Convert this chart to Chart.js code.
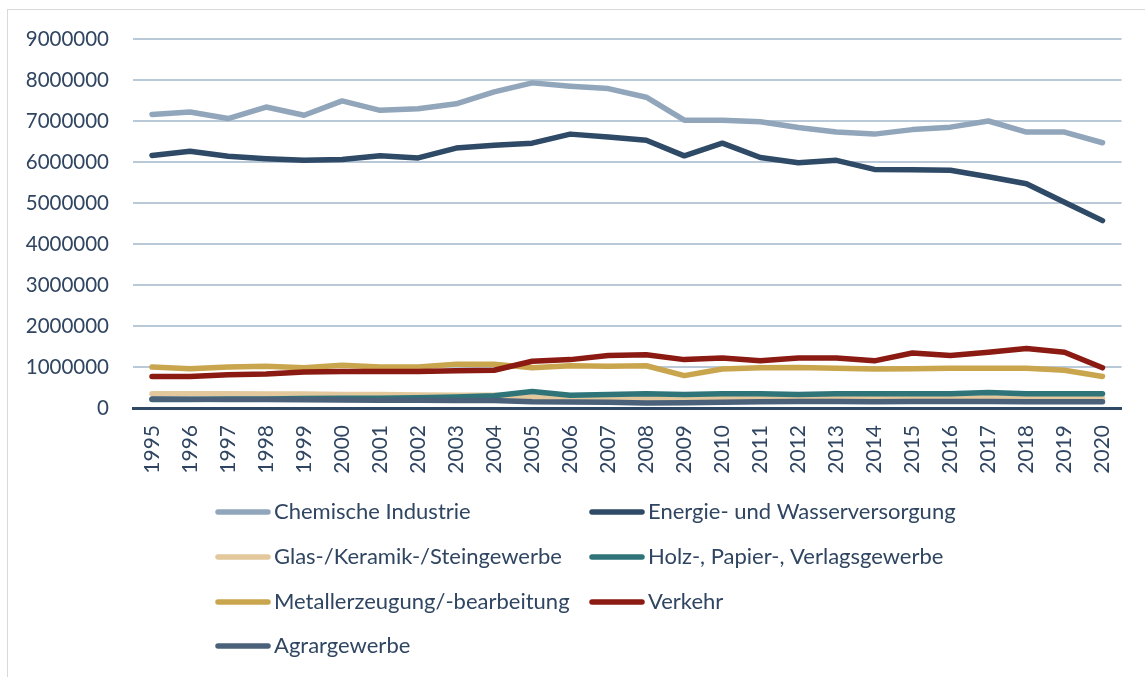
<!DOCTYPE html>
<html>
<head>
<meta charset="utf-8">
<script src="https://cdn.jsdelivr.net/npm/chart.js@4/dist/chart.umd.min.js"></script>
<style>
  html, body { margin: 0; padding: 0; background: #ffffff; overflow: hidden; }
  #wrap { position: relative; width: 1145px; height: 677px; }
  #frame { position: absolute; left: 7px; top: 9px; width: 1160px; height: 700px; border: 1px solid #D9D9D9; box-sizing: border-box; }
  #c { position: absolute; left: 0; top: 0; }
</style>
</head>
<body>
<div id="wrap">
  <div id="frame"></div>
  <canvas id="c" width="1145" height="677"></canvas>
</div>
<script>
const years = ['1995','1996','1997','1998','1999','2000','2001','2002','2003','2004','2005','2006','2007','2008','2009','2010','2011','2012','2013','2014','2015','2016','2017','2018','2019','2020'];

const chemischeIndustrie = [7160000,7220000,7060000,7340000,7140000,7490000,7260000,7300000,7420000,7710000,7930000,7850000,7790000,7580000,7020000,7020000,6980000,6840000,6730000,6680000,6790000,6850000,7000000,6730000,6730000,6470000];
const energieWasser = [6160000,6260000,6140000,6080000,6040000,6060000,6150000,6100000,6340000,6410000,6460000,6680000,6610000,6530000,6150000,6460000,6110000,5980000,6040000,5820000,5810000,5800000,5640000,5470000,5020000,4570000];
const glasKeramikStein = [350000,350000,350000,340000,340000,330000,330000,320000,310000,310000,270000,240000,240000,240000,220000,240000,240000,240000,240000,240000,240000,240000,250000,240000,240000,230000];
const holzPapierVerlag = [210000,210000,220000,220000,230000,240000,240000,250000,270000,300000,400000,310000,330000,350000,330000,350000,350000,330000,350000,350000,350000,350000,380000,350000,350000,350000];
const metallerzeugung = [1000000,960000,1000000,1020000,980000,1040000,1000000,1000000,1070000,1070000,980000,1030000,1020000,1030000,790000,950000,980000,990000,970000,950000,960000,970000,970000,970000,920000,770000];
const verkehr = [770000,770000,810000,830000,880000,890000,890000,890000,910000,920000,1140000,1180000,1280000,1300000,1180000,1220000,1150000,1220000,1220000,1150000,1340000,1280000,1360000,1450000,1360000,980000];
const agrargewerbe = [220000,215000,210000,205000,200000,195000,190000,188000,185000,180000,150000,145000,140000,120000,130000,140000,150000,160000,160000,155000,160000,160000,160000,155000,155000,155000];

const seriesNames = ['Chemische Industrie','Energie- und Wasserversorgung','Glas-/Keramik-/Steingewerbe','Holz-, Papier-, Verlagsgewerbe','Metallerzeugung/-bearbeitung','Verkehr','Agrargewerbe'];
const seriesData = [chemischeIndustrie, energieWasser, glasKeramikStein, holzPapierVerlag, metallerzeugung, verkehr, agrargewerbe];
const seriesColors = ['#91A6BA','#2E4A66','#E2C89C','#2F7479','#C9A54E','#8A1A12','#4B617A'];

const yTicks = [0,1000000,2000000,3000000,4000000,5000000,6000000,7000000,8000000,9000000];

const textColor = '#2F4561';
const fontFamily = 'Lato, "Open Sans", sans-serif';

const datasets = seriesNames.map((name, i) => ({
  label: name,
  data: seriesData[i],
  borderColor: seriesColors[i],
  backgroundColor: seriesColors[i],
  borderWidth: 5.5,
  pointRadius: 0,
  pointHoverRadius: 0,
  tension: 0,
  fill: false,
  borderCapStyle: 'round',
  borderJoinStyle: 'round',
  order: seriesNames.length - i
}));

const customLegend = {
  id: 'customLegend',
  afterDraw(chart) {
    const ctx = chart.ctx;
    const colX = [215, 589];
    const rowY = [512, 557, 602, 646];
    ctx.save();
    ctx.font = '22px ' + fontFamily;
    ctx.textBaseline = 'middle';
    ctx.textAlign = 'left';
    chart.data.datasets.forEach((ds, i) => {
      const x = colX[i % 2];
      const y = rowY[Math.floor(i / 2)];
      ctx.strokeStyle = ds.borderColor;
      ctx.lineWidth = 5.5;
      ctx.lineCap = 'round';
      ctx.beginPath();
      ctx.moveTo(x + 3, y);
      ctx.lineTo(x + 53, y);
      ctx.stroke();
      ctx.fillStyle = textColor;
      ctx.fillText(ds.label, x + 59, y);
    });
    ctx.restore();
  }
};

new Chart(document.getElementById('c'), {
  type: 'line',
  data: { labels: years, datasets: datasets },
  options: {
    responsive: false,
    devicePixelRatio: 1,
    animation: false,
    events: [],
    layout: { padding: { top: 39, right: 15, left: 0, bottom: 0 } },
    plugins: { legend: { display: false }, tooltip: { enabled: false } },
    scales: {
      x: {
        type: 'category',
        offset: true,
        grid: { display: false, drawTicks: false },
        border: { display: true, color: '#2E4A66', width: 3 },
        ticks: {
          color: textColor,
          font: { family: fontFamily, size: 21 },
          minRotation: 90,
          maxRotation: 90,
          autoSkip: false,
          padding: 17
        },
        afterFit(scale) { scale.height = 269; }
      },
      y: {
        min: 0,
        max: 9000000,
        afterBuildTicks(scale) { scale.ticks = yTicks.map(v => ({ value: v })); },
        grid: { color: '#B9C9D7', lineWidth: 2, drawTicks: false },
        border: { display: false },
        ticks: {
          color: textColor,
          font: { family: fontFamily, size: 20.5 },
          padding: 24,
          callback: v => String(v)
        },
        afterFit(scale) { scale.width = 133; }
      }
    }
  },
  plugins: [customLegend]
});
</script>
</body>
</html>
